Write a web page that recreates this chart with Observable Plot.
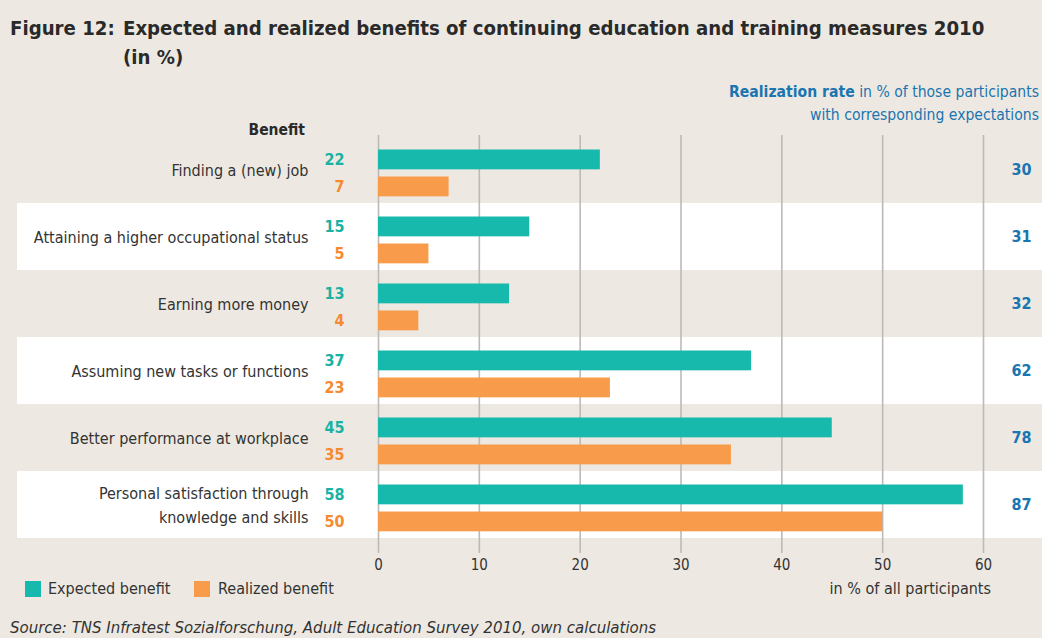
<!DOCTYPE html>
<html>
<head>
<meta charset="utf-8">
<script src="https://cdn.jsdelivr.net/npm/d3@7"></script>
<script src="https://cdn.jsdelivr.net/npm/@observablehq/plot@0.6"></script>
<style>
  html, body { margin: 0; padding: 0; }
  body { background: #EDE9E2; width: 1042px; height: 638px; overflow: hidden; }
  #wrap { position: relative; width: 1042px; height: 638px; font-family: "DejaVu Sans Condensed", "DejaVu Sans", sans-serif; font-stretch: condensed; color: #333; }
  #wrap svg { position: absolute; left: 0; top: 0; }
  .abs { position: absolute; white-space: nowrap; }
  #title { left: 10px; top: 14px; font-size: 20.2px; font-weight: bold; line-height: 29px; display: flex; color: #2a2a2a; }
  #title .num { width: 113px; flex: none; }
  #rate { right: 3px; top: 81px; font-size: 15.6px; line-height: 23px; text-align: right; color: #1a75b0; }
  #benefit { right: 737px; top: 120px; font-size: 15.5px; line-height: 20px; font-weight: bold; color: #2a2a2a; }
  .sw { position: absolute; width: 16px; height: 16px; top: 581px; }
  .lg { top: 579px; font-size: 16px; line-height: 20px; }
  #unit { right: 51px; top: 579px; font-size: 16px; line-height: 20px; }
  #source { left: 10px; top: 618px; font-size: 15px; line-height: 20px; font-style: italic; font-family: "DejaVu Sans", sans-serif; font-stretch: normal; }
</style>
</head>
<body>
<div id="wrap">
  <div id="chart"></div>
  <div id="title" class="abs"><span class="num">Figure 12:</span><span>Expected and realized benefits of continuing education and training measures 2010<br>(in %)</span></div>
  <div id="rate" class="abs"><b>Realization rate</b> in % of those participants<br>with corresponding expectations</div>
  <div id="benefit" class="abs">Benefit</div>
  <div class="sw" style="left:25px;background:#17B9AC"></div>
  <div class="abs lg" style="left:48px">Expected benefit</div>
  <div class="sw" style="left:194px;background:#F89B4A"></div>
  <div class="abs lg" style="left:218px">Realized benefit</div>
  <div id="unit" class="abs">in % of all participants</div>
  <div id="source" class="abs">Source: TNS Infratest Sozialforschung, Adult Education Survey 2010, own calculations</div>
</div>
<script>
const categories = [
  "Finding a (new) job",
  "Attaining a higher occupational status",
  "Earning more money",
  "Assuming new tasks or functions",
  "Better performance at workplace",
  "Personal satisfaction through\nknowledge and skills"
];
const expected = [22, 15, 13, 37, 45, 58];
const realized = [7, 5, 4, 23, 35, 50];
const realizationRate = [30, 31, 32, 62, 78, 87];
const xTicks = [0, 10, 20, 30, 40, 50, 60];

const rows = categories.map((c, i) => ({
  label: c, expected: expected[i], realized: realized[i], rate: realizationRate[i], i
}));
const whiteRows = rows.filter(d => d.i % 2 === 1);

const teal = "#17B9AC", orange = "#F89B4A";
const tealText = "#19B2A3", orangeText = "#F58A30", blue = "#1a75b0";
const grid = "#BDBAB6";
const font = "'DejaVu Sans Condensed', 'DejaVu Sans', sans-serif";

const step = (538 - 135) / 6;

const chart = Plot.plot({
  width: 1042,
  height: 638,
  marginTop: 135,
  marginBottom: 100,
  marginLeft: 378,
  marginRight: 59,
  style: { background: "transparent", fontFamily: font, fontStretch: "condensed", color: "#333" },
  x: { domain: [0, 60], axis: null },
  y: { domain: categories, padding: 0, axis: null },
  marks: [
    Plot.barX(whiteRows, { y: "label", x1: 0, x2: 60, fill: "#FFFFFF", insetLeft: -(378 - 17), insetRight: -59 }),
    Plot.ruleX(xTicks, { stroke: grid, strokeWidth: 1.6 }),
    Plot.axisX({ ticks: xTicks, tickSize: 15, tickPadding: 6, stroke: grid, strokeWidth: 1.6, fontSize: 15, fill: "#333", tickFormat: d => String(d) }),
    Plot.barX(rows, { y: "label", x: "expected", fill: teal, insetTop: 13.5, insetBottom: step - 33.5 }),
    Plot.barX(rows, { y: "label", x: "realized", fill: orange, insetTop: 40.5, insetBottom: step - 60.5 }),
    Plot.text(rows, { y: "label", frameAnchor: "left", dx: -70, dy: -2, text: "label", textAnchor: "end", fontSize: 16, fill: "#333", lineHeight: 1.5 }),
    Plot.text(rows, { y: "label", frameAnchor: "left", dx: -34, dy: -10, text: d => String(d.expected), textAnchor: "end", fontSize: 16, fontWeight: "bold", fill: tealText }),
    Plot.text(rows, { y: "label", frameAnchor: "left", dx: -34, dy: 17, text: d => String(d.realized), textAnchor: "end", fontSize: 16, fontWeight: "bold", fill: orangeText }),
    Plot.text(rows, { y: "label", frameAnchor: "right", dx: 48, dy: 0, text: d => String(d.rate), textAnchor: "end", fontSize: 16, fontWeight: "bold", fill: blue })
  ]
});
document.getElementById("chart").appendChild(chart);
</script>
</body>
</html>
